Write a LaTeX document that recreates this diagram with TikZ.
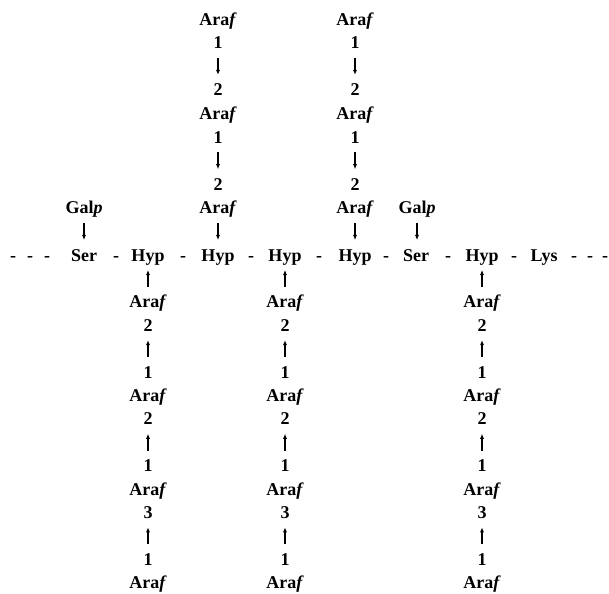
\documentclass[tikz,border=0pt]{standalone}
\usepackage{fontspec}
\setmainfont{Liberation Serif}
\usetikzlibrary{arrows.meta}

% residue labels and glycosidic links
\tikzset{
  lbl/.style={font=\bfseries\fontsize{18}{20}\selectfont, inner sep=0pt,
              text height=12.3pt, text depth=0pt, anchor=center},
  link/.style={-{Latex[length=5pt,width=4.2pt]}, line width=1.2pt,
               shorten <=15pt, shorten >=15pt},
}
\newcommand{\araf}{Ara\textit{f}}
\newcommand{\galp}{Gal\textit{p}}

\begin{document}
\begin{tikzpicture}[x=1pt, y=-1pt]
\useasboundingbox (0,0) rectangle (609,593);
\def\M{255}     % baseline row of the peptide backbone
\def\st{23.6}   % row pitch above the backbone
\def\sb{23.4}   % row pitch below the backbone

% peptide backbone
\node[lbl] (d1) at (13,\M) {-};
\node[lbl] (d2) at (30,\M) {-};
\node[lbl] (d3) at (47,\M) {-};
\node[lbl] (s1) at (84,\M) {Ser};
\node[lbl] (d4) at (116,\M) {-};
\node[lbl] (h1) at (148,\M) {Hyp};
\node[lbl] (d5) at (183,\M) {-};
\node[lbl] (h2) at (218,\M) {Hyp};
\node[lbl] (d6) at (251,\M) {-};
\node[lbl] (h3) at (285,\M) {Hyp};
\node[lbl] (d7) at (319,\M) {-};
\node[lbl] (h4) at (355,\M) {Hyp};
\node[lbl] (d8) at (386,\M) {-};
\node[lbl] (s2) at (416,\M) {Ser};
\node[lbl] (d9) at (448,\M) {-};
\node[lbl] (h5) at (482,\M) {Hyp};
\node[lbl] (d10) at (514,\M) {-};
\node[lbl] (k1) at (544,\M) {Lys};
\node[lbl] (d11) at (574,\M) {-};
\node[lbl] (d12) at (590,\M) {-};
\node[lbl] (d13) at (605,\M) {-};

% galactose on serine
\node[lbl] (g1) at (84,\M-2*\st) {\galp};
\node[lbl] (g2) at (417,\M-2*\st) {\galp};
\draw[link] (g1.center) -- (g1.center |- s1.center);
\draw[link] (g2.center) -- (g2.center |- s2.center);

% arabinose chains above the backbone
\foreach \c/\x/\h in {ta/218/h2, tb/355/h4} {
  \node[lbl] (\c1) at (\x,\M-10*\st) {\araf};
  \node[lbl] (\c2) at (\x,\M-9*\st) {1};
  \node[lbl] (\c3) at (\x,\M-7*\st) {2};
  \node[lbl] (\c4) at (\x,\M-6*\st) {\araf};
  \node[lbl] (\c5) at (\x,\M-5*\st) {1};
  \node[lbl] (\c6) at (\x,\M-3*\st) {2};
  \node[lbl] (\c7) at (\x,\M-2*\st) {\araf};
  \draw[link] (\c2.center) -- (\c3.center);
  \draw[link] (\c5.center) -- (\c6.center);
  \draw[link] (\c7.center) -- (\c7.center |- \h.center);
}

% arabinose chains below the backbone
\foreach \c/\x/\h in {ba/148/h1, bb/285/h3, bc/482/h5} {
  \node[lbl] (\c1) at (\x,\M+2*\sb) {\araf};
  \node[lbl] (\c2) at (\x,\M+3*\sb) {2};
  \node[lbl] (\c3) at (\x,\M+5*\sb) {1};
  \node[lbl] (\c4) at (\x,\M+6*\sb) {\araf};
  \node[lbl] (\c5) at (\x,\M+7*\sb) {2};
  \node[lbl] (\c6) at (\x,\M+9*\sb) {1};
  \node[lbl] (\c7) at (\x,\M+10*\sb) {\araf};
  \node[lbl] (\c8) at (\x,\M+11*\sb) {3};
  \node[lbl] (\c9) at (\x,\M+13*\sb) {1};
  \node[lbl] (\c10) at (\x,\M+14*\sb) {\araf};
  \draw[link] (\c3.center) -- (\c2.center);
  \draw[link] (\c6.center) -- (\c5.center);
  \draw[link] (\c9.center) -- (\c8.center);
  \draw[link] (\c1.center) -- (\c1.center |- \h.center);
}
\end{tikzpicture}
\end{document}
